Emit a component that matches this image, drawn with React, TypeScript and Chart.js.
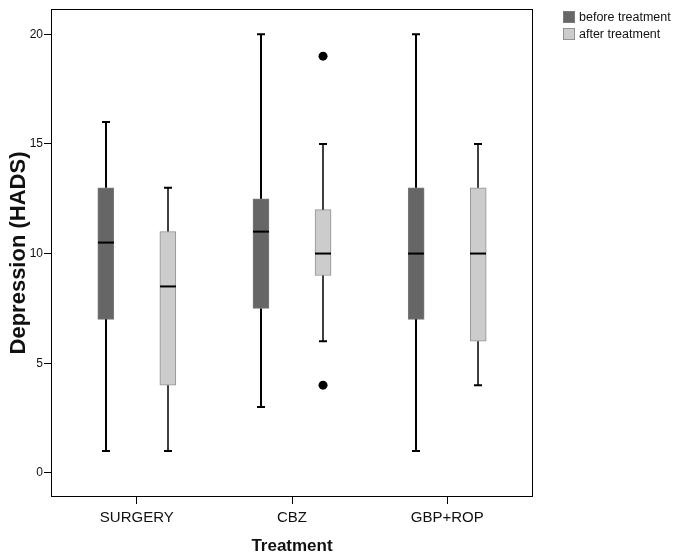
import React, { useEffect, useRef } from "react";
import { Chart, registerables } from "chart.js";

Chart.register(...registerables);

// ---- data ----
const categories = ["SURGERY", "CBZ", "GBP+ROP"];
const seriesNames = ["before treatment", "after treatment"];
const yTicks = [0, 5, 10, 15, 20];

const beforeMin = [1, 3, 1];
const beforeQ1 = [7, 7.5, 7];
const beforeMedian = [10.5, 11, 10];
const beforeQ3 = [13, 12.5, 13];
const beforeMax = [16, 20, 20];

const afterMin = [1, 6, 4];
const afterQ1 = [4, 9, 6];
const afterMedian = [8.5, 10, 10];
const afterQ3 = [11, 12, 13];
const afterMax = [13, 15, 15];

const afterOutliers = [[], [19, 4], []];

// ---- style ----
const FONT = "'Liberation Sans', Arial, Helvetica, sans-serif";
const OFFSETS = [-0.2, 0.2];
const FILLS = ["#666666", "#cccccc"];
const BORDERS = ["#7a7a7a", "#929292"];
const WHISKER_W = [2, 1.5];

const series = [
  { min: beforeMin, q1: beforeQ1, med: beforeMedian, q3: beforeQ3, max: beforeMax },
  { min: afterMin, q1: afterQ1, med: afterMedian, q3: afterQ3, max: afterMax },
];

const boxPlugin = {
  id: "boxExtras",
  afterDatasetsDraw(chart: any) {
    const ctx = chart.ctx;
    const xs = chart.scales.x;
    const ys = chart.scales.y;
    ctx.save();
    series.forEach((s, si) => {
      categories.forEach((_, i) => {
        const cx = Math.round(xs.getPixelForValue(i + OFFSETS[si]));
        const yMin = ys.getPixelForValue(s.min[i]);
        const yQ1 = ys.getPixelForValue(s.q1[i]);
        const yQ3 = ys.getPixelForValue(s.q3[i]);
        const yMax = ys.getPixelForValue(s.max[i]);
        const yMed = ys.getPixelForValue(s.med[i]);
        ctx.strokeStyle = "#000";
        ctx.lineWidth = WHISKER_W[si];
        ctx.beginPath();
        ctx.moveTo(cx, yQ1);
        ctx.lineTo(cx, yMin);
        ctx.moveTo(cx, yQ3);
        ctx.lineTo(cx, yMax);
        ctx.stroke();
        ctx.lineWidth = 2;
        ctx.beginPath();
        ctx.moveTo(cx - 4, yMin);
        ctx.lineTo(cx + 4, yMin);
        ctx.moveTo(cx - 4, yMax);
        ctx.lineTo(cx + 4, yMax);
        ctx.stroke();
        ctx.lineWidth = 2;
        ctx.beginPath();
        ctx.moveTo(cx - 8, yMed);
        ctx.lineTo(cx + 8, yMed);
        ctx.stroke();
      });
    });
    ctx.restore();
  },
  afterDraw(chart: any) {
    const ctx = chart.ctx;
    const a = chart.chartArea;
    ctx.save();
    ctx.strokeStyle = "#000";
    ctx.lineWidth = 1;
    ctx.strokeRect(a.left + 0.5, a.top + 0.5, a.right - a.left - 1, a.bottom - a.top - 1);
    // legend
    ctx.font = `12.5px ${FONT}`;
    ctx.textBaseline = "middle";
    ctx.textAlign = "left";
    seriesNames.forEach((name, i) => {
      const y = 11 + i * 17;
      ctx.fillStyle = FILLS[i];
      ctx.fillRect(563, y, 12, 12);
      ctx.strokeStyle = BORDERS[i];
      ctx.strokeRect(563.5, y + 0.5, 11, 11);
      ctx.fillStyle = "#111";
      ctx.fillText(name, 579, y + 6.5);
    });
    ctx.restore();
  },
};

export default function App() {
  const ref = useRef<HTMLCanvasElement>(null);
  useEffect(() => {
    if (!ref.current) return;
    const datasets: any[] = series.map((s, si) => ({
      type: "bar",
      label: seriesNames[si],
      data: categories.map((_, i) => ({ x: i + OFFSETS[si], y: [s.q1[i], s.q3[i]] })),
      backgroundColor: FILLS[si],
      borderColor: BORDERS[si],
      borderWidth: 1,
      borderSkipped: false,
      barThickness: 16,
      grouped: false,
    }));
    const outlierPoints: any[] = [];
    afterOutliers.forEach((arr, i) => arr.forEach((v) => outlierPoints.push({ x: i + OFFSETS[1], y: v })));
    datasets.push({
      type: "scatter",
      label: "outliers",
      data: outlierPoints,
      pointRadius: 4.5,
      pointBackgroundColor: "#000",
      pointBorderWidth: 0,
      showLine: false,
    });
    const chart = new Chart(ref.current, {
      type: "bar",
      data: { datasets },
      plugins: [boxPlugin],
      options: {
        animation: false,
        responsive: false,
        devicePixelRatio: 1,
        layout: { padding: { left: 0, right: 140, top: 9, bottom: 0 } },
        plugins: { legend: { display: false }, tooltip: { enabled: false } },
        scales: {
          x: {
            type: "linear",
            offset: false,
            min: -0.553,
            max: 2.553,
            afterBuildTicks: (s: any) => {
              s.ticks = categories.map((_, i) => ({ value: i }));
            },
            afterFit: (s: any) => {
              s.height = 61;
            },
            border: { display: false },
            grid: { offset: false, drawOnChartArea: false, drawTicks: true, tickLength: 7, color: "#000", lineWidth: 1 },
            ticks: {
              color: "#111",
              font: { family: FONT, size: 15 },
              padding: 5,
              maxRotation: 0,
              autoSkip: false,
              callback: (v: any) => categories[v] ?? "",
            },
            title: {
              display: true,
              text: "Treatment",
              color: "#111",
              font: { family: FONT, size: 17, weight: "bold" },
              padding: { top: 0, bottom: 1 },
            },
          },
          y: {
            type: "linear",
            min: -1.1,
            max: 21.15,
            afterBuildTicks: (s: any) => {
              s.ticks = yTicks.map((v) => ({ value: v }));
            },
            afterFit: (s: any) => {
              s.width = 51;
            },
            border: { display: false },
            grid: { drawOnChartArea: false, drawTicks: true, tickLength: 7, color: "#000", lineWidth: 1 },
            ticks: {
              color: "#111",
              font: { family: FONT, size: 12 },
              padding: 1,
            },
            title: {
              display: true,
              text: "Depression (HADS)",
              color: "#111",
              font: { family: FONT, size: 22, weight: "bold" },
              padding: { top: 6, bottom: 0 },
            },
          },
        },
      } as any,
    });
    return () => chart.destroy();
  }, []);
  return (
    <div style={{ position: "absolute", left: 0, top: 0, width: 673, height: 558, background: "#fff" }}>
      <canvas ref={ref} width={673} height={558} style={{ width: 673, height: 558 }} />
    </div>
  );
}
